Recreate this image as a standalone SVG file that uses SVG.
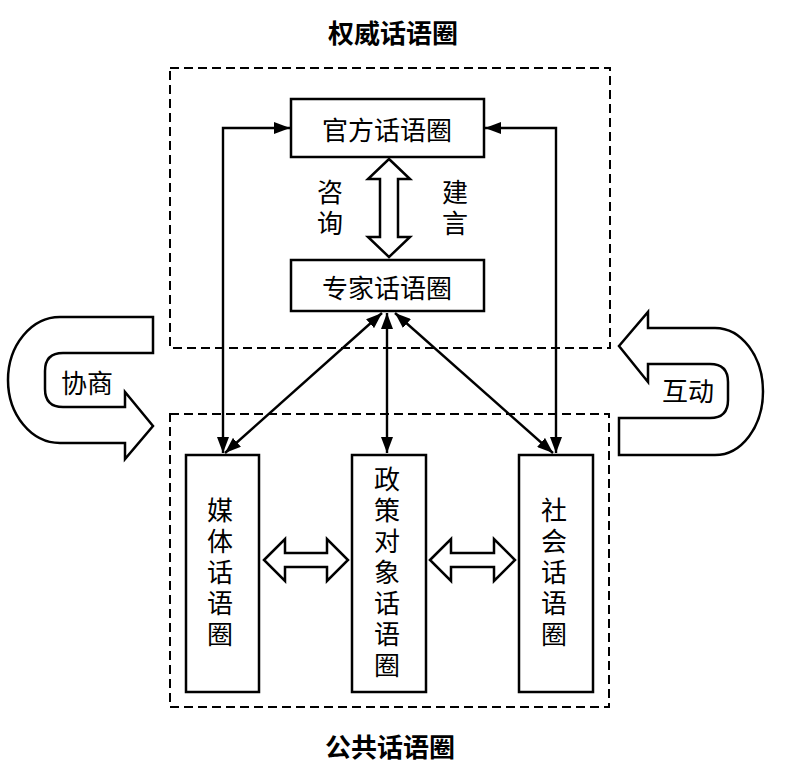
<svg xmlns="http://www.w3.org/2000/svg" width="785" height="769" viewBox="0 0 785 769">
<style>
.box{fill:#fff;stroke:#000;stroke-width:2.5}
.dash{fill:none;stroke:#000;stroke-width:2;stroke-dasharray:9 5}
.hollow{fill:#fff;stroke:#000;stroke-width:2.5;stroke-linejoin:miter}
.ln{fill:none;stroke:#000;stroke-width:2.4}
.t{font-family:"Noto Sans CJK SC","Noto Sans",sans-serif;font-size:26px;fill:#000;text-anchor:middle;dominant-baseline:central}
.v{writing-mode:vertical-rl;letter-spacing:5px}
.title{font-weight:bold;font-size:26px}
</style>
<defs>
<marker id="ah" viewBox="0 0 16 12" refX="16" refY="6" markerWidth="16" markerHeight="12" markerUnits="userSpaceOnUse" orient="auto-start-reverse">
<path d="M0,0 L16,6 L0,12 Z" fill="#000"/>
</marker>
</defs>
<rect width="785" height="769" fill="#fff"/>
<g id="authority">
<rect class="dash" x="170" y="68" width="440" height="280"/>
<text class="t title" x="393" y="31">权威话语圈</text>
</g>
<g id="public">
<rect class="dash" x="170" y="414" width="439" height="293"/>
<text class="t title" x="390" y="745">公共话语圈</text>
</g>
<g id="official">
<rect class="box" x="291" y="99" width="193" height="58"/>
<text class="t" x="387" y="128">官方话语圈</text>
</g>
<g id="expert">
<rect class="box" x="291" y="260" width="193" height="51"/>
<text class="t" x="387" y="286">专家话语圈</text>
</g>
<g id="media">
<rect class="box" x="186" y="455" width="73" height="237"/>
<text class="t v" x="220" y="575">媒体话语圈</text>
</g>
<g id="policy">
<rect class="box" x="352" y="455" width="74" height="237"/>
<text class="t v" x="387" y="575">政策对象话语圈</text>
</g>
<g id="society">
<rect class="box" x="519" y="455" width="74" height="237"/>
<text class="t v" x="554" y="575">社会话语圈</text>
</g>
<g id="connectors">
<path class="ln" d="M223,453 L223,128 L290,128" marker-start="url(#ah)" marker-end="url(#ah)"/>
<path class="ln" d="M556,453 L556,128 L485,128" marker-start="url(#ah)" marker-end="url(#ah)"/>
<path class="ln" d="M382,313 L225,453" marker-start="url(#ah)" marker-end="url(#ah)"/>
<path class="ln" d="M387,313 L387,453" marker-start="url(#ah)" marker-end="url(#ah)"/>
<path class="ln" d="M395,313 L553,453" marker-start="url(#ah)" marker-end="url(#ah)"/>
<path class="hollow" d="M389,159 L410,179 L398,179 L398,237 L410,237 L389,257 L368,237 L380,237 L380,179 L368,179 Z"/>
<path class="hollow" d="M264,560 L285,539 L285,553 L327,553 L327,539 L348,560 L327,581 L327,567 L285,567 L285,581 Z"/>
<path class="hollow" d="M430,560 L451,539 L451,553 L494,553 L494,539 L515,560 L494,581 L494,567 L451,567 L451,581 Z"/>
</g>
<g id="consult-label">
<text class="t v" x="330" y="210">咨询</text>
<text class="t v" x="455" y="210">建言</text>
</g>
<g id="negotiate">
<path class="hollow" d="M153,317 L60,317 A52,63 0 0 0 60,443 L125,443 L125,459 L153,426 L125,392 L125,407 L63,407 Q45,407 45,389 L45,371 Q45,353 63,353 L153,353 Z"/>
<text class="t" x="87" y="381">协商</text>
</g>
<g id="interact">
<path class="hollow" d="M648,328 L715,328 A48,63.5 0 0 1 715,455 L619,455 L619,418 L710,418 Q728,418 728,400 L728,382 Q728,364 710,364 L648,364 L648,382 L619,346 L648,312 Z"/>
<text class="t" x="688" y="389">互动</text>
</g>
</svg>
